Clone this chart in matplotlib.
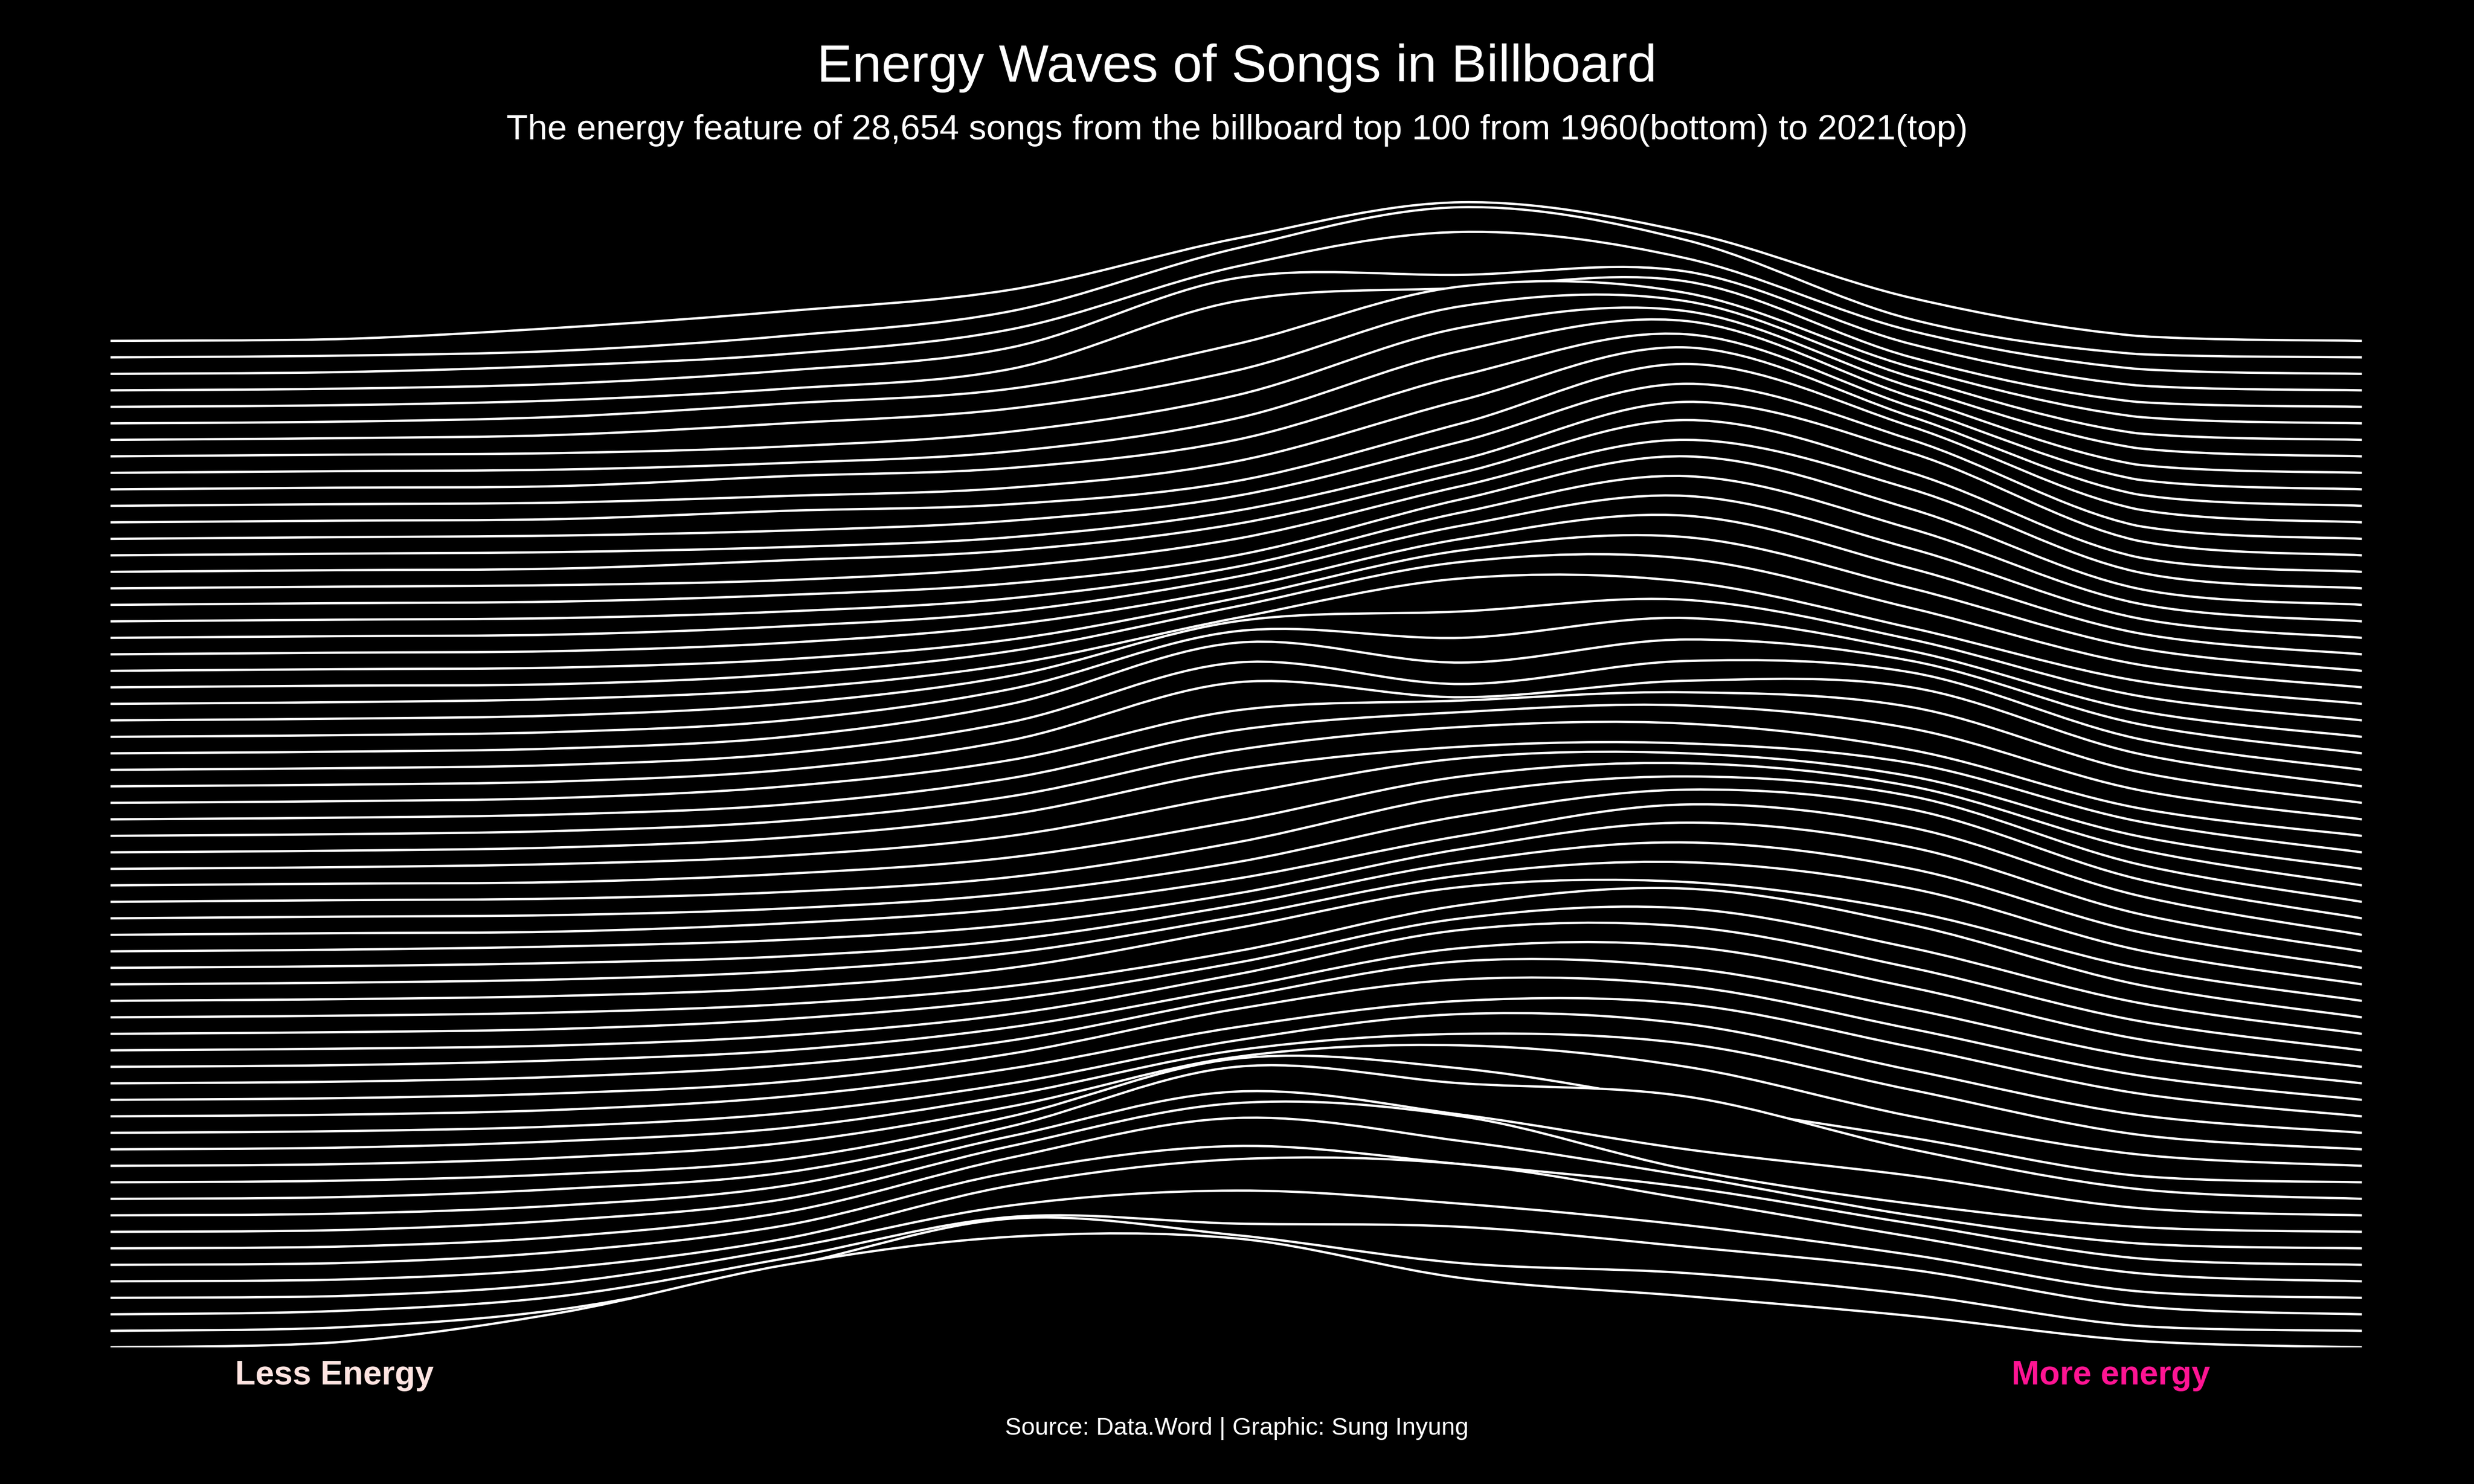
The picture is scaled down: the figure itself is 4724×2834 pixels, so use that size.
import numpy as np
import matplotlib.pyplot as plt
from matplotlib.path import Path
from matplotlib.patches import PathPatch

plt.rcParams['font.family'] = ['Liberation Sans', 'DejaVu Sans']

# energy values where the ridge heights were read (0 .. 1)
energy_grid = [0.0, 0.1, 0.2, 0.3, 0.4, 0.5, 0.6, 0.7, 0.8, 0.9, 1.0]

# ridge heights (scaled density, in units of the row spacing) at energy 0.1 .. 0.9
dens_1960s = [
    [0.3, 2.1, 5.0, 6.7, 6.6, 4.2, 3.1, 1.9, 0.4],   # 1960
    [0.2, 1.3, 3.9, 6.8, 5.8, 4.1, 3.5, 2.2, 0.3],
    [0.2, 1.1, 3.4, 5.9, 5.5, 5.3, 4.1, 2.7, 0.5],
    [0.1, 0.9, 3.0, 5.6, 6.5, 5.7, 4.4, 2.6, 0.4],
    [0.1, 0.8, 2.6, 5.8, 7.4, 7.1, 5.0, 2.7, 0.5],
    [0.1, 0.8, 2.4, 5.6, 7.2, 6.1, 4.7, 2.5, 0.4],
    [0.1, 0.7, 2.2, 5.5, 7.9, 6.5, 4.4, 2.0, 0.3],
    [0.1, 0.7, 2.0, 5.2, 7.8, 7.0, 3.8, 1.7, 0.3],
    [0.1, 0.6, 1.8, 4.8, 7.5, 6.1, 4.0, 2.4, 0.45],
    [0.1, 0.6, 1.6, 4.4, 8.0, 7.0, 6.2, 3.0, 0.6],
]
dens_1970s = [
    [0.1, 0.5, 1.4, 4.0, 7.5, 6.9, 4.8, 2.7, 0.4],   # 1970
    [0.1, 0.5, 1.4, 3.6, 6.6, 7.3, 6.0, 3.0, 0.7],
    [0.1, 0.5, 1.3, 3.3, 6.0, 7.0, 6.4, 3.6, 0.9],
    [0.1, 0.4, 1.2, 3.0, 5.6, 7.2, 6.6, 3.8, 1.1],
    [0.1, 0.4, 1.2, 2.9, 5.4, 7.0, 6.8, 4.2, 1.4],
    [0.1, 0.4, 1.1, 2.8, 5.5, 7.3, 6.9, 4.3, 1.5],
    [0.1, 0.4, 1.1, 2.6, 5.2, 7.4, 7.0, 4.5, 1.6],
    [0.1, 0.4, 1.0, 2.4, 4.8, 7.2, 7.3, 4.8, 1.7],
    [0.1, 0.3, 0.9, 2.2, 4.6, 7.3, 7.5, 5.0, 1.8],
    [0.1, 0.3, 0.9, 2.1, 4.3, 7.0, 7.6, 5.2, 1.9],
]
dens_1980s = [
    [0.1, 0.3, 0.8, 1.9, 4.0, 6.8, 7.8, 5.6, 2.0],   # 1980
    [0.1, 0.3, 0.8, 2.0, 4.4, 6.9, 7.2, 5.4, 2.0],
    [0.1, 0.3, 0.8, 1.9, 4.1, 6.6, 7.4, 5.8, 2.1],
    [0.1, 0.3, 0.7, 1.7, 3.8, 6.4, 7.6, 6.0, 2.2],
    [0.1, 0.3, 0.7, 1.6, 3.5, 6.2, 7.8, 6.3, 2.3],
    [0.1, 0.2, 0.7, 1.6, 3.4, 6.0, 7.9, 6.5, 2.4],
    [0.1, 0.2, 0.6, 1.5, 3.4, 6.2, 7.8, 6.6, 2.4],
    [0.1, 0.2, 0.6, 1.5, 3.6, 6.5, 7.6, 6.4, 2.3],
    [0.1, 0.2, 0.7, 1.7, 3.9, 6.6, 7.4, 6.0, 2.2],
    [0.1, 0.3, 0.8, 2.0, 4.5, 6.7, 7.0, 5.6, 2.0],
]
dens_1990s = [
    [0.1, 0.3, 0.9, 2.3, 5.0, 6.4, 6.6, 5.4, 1.9],   # 1990
    [0.1, 0.3, 0.9, 2.4, 5.2, 6.6, 6.8, 5.2, 1.7],
    [0.1, 0.3, 0.9, 2.5, 5.4, 6.5, 6.9, 5.5, 1.8],
    [0.1, 0.3, 1.0, 2.6, 5.6, 6.2, 6.7, 5.8, 1.9],
    [0.1, 0.3, 1.0, 2.8, 6.3, 5.4, 6.4, 6.0, 2.0],
    [0.1, 0.3, 1.0, 2.9, 6.5, 5.2, 6.6, 5.9, 1.9],
    [0.1, 0.3, 1.0, 3.0, 6.7, 5.5, 6.9, 5.6, 1.8],
    [0.1, 0.3, 1.0, 2.9, 6.4, 6.0, 7.2, 5.2, 1.6],
    [0.1, 0.3, 1.0, 2.7, 6.0, 6.6, 7.3, 4.9, 1.5],
    [0.1, 0.3, 0.9, 2.4, 5.2, 7.6, 7.4, 4.6, 1.4],
]
dens_2000s = [
    [0.1, 0.2, 0.8, 2.2, 4.9, 7.6, 7.8, 4.8, 1.4],   # 2000
    [0.1, 0.2, 0.7, 1.9, 4.4, 7.3, 8.1, 5.0, 1.4],
    [0.1, 0.2, 0.7, 1.8, 4.0, 7.0, 8.4, 5.2, 1.3],
    [0.1, 0.2, 0.7, 1.6, 3.7, 6.8, 8.6, 5.4, 1.2],
    [0.1, 0.2, 0.6, 1.4, 3.3, 6.6, 8.8, 5.6, 1.1],
    [0.1, 0.2, 0.6, 1.3, 3.0, 6.4, 9.0, 5.8, 1.0],
    [0.1, 0.2, 0.5, 1.3, 3.0, 6.2, 9.0, 6.0, 1.0],
    [0.1, 0.2, 0.7, 1.3, 2.9, 6.0, 9.2, 6.0, 0.9],
    [0.1, 0.2, 0.5, 1.1, 2.7, 5.8, 9.3, 6.2, 0.9],
    [0.1, 0.2, 0.5, 1.1, 2.6, 5.9, 9.4, 6.0, 0.8],
]
dens_2010s = [
    [0.1, 0.2, 0.7, 1.1, 2.5, 6.0, 9.6, 5.8, 0.8],   # 2010
    [0.1, 0.2, 0.6, 1.1, 2.7, 6.4, 9.6, 5.4, 0.7],
    [0.1, 0.2, 0.8, 1.3, 3.0, 6.9, 9.4, 5.0, 0.6],
    [0.1, 0.2, 0.6, 1.3, 3.3, 7.4, 9.2, 4.6, 0.5],
    [0.1, 0.2, 0.6, 1.5, 3.7, 7.8, 8.8, 4.2, 0.5],
    [0.1, 0.3, 1.0, 1.9, 4.2, 8.1, 8.4, 3.8, 0.4],
    [0.1, 0.4, 1.2, 2.1, 4.8, 8.3, 7.9, 3.4, 0.4],
    [0.1, 0.4, 1.1, 2.3, 6.4, 7.2, 7.6, 3.0, 0.3],
    [0.1, 0.4, 1.2, 2.6, 6.8, 7.0, 7.2, 2.8, 0.3],
    [0.1, 0.5, 1.2, 2.7, 6.5, 8.6, 7.0, 2.6, 0.3],
]
dens_2020s = [
    [0.1, 0.4, 1.3, 2.8, 6.6, 9.1, 7.1, 2.3, 0.2],   # 2020
    [0.1, 0.8, 1.8, 3.1, 6.2, 8.4, 6.6, 2.6, 0.3],   # 2021
]

years = list(range(1960, 2022))
ridges = dens_1960s + dens_1970s + dens_1980s + dens_1990s + dens_2000s + dens_2010s + dens_2020s


def ridge_path(xs, ys, base):
    # smooth curve through the read points (catmull-rom as cubic beziers)
    pts = np.column_stack([xs, ys])
    n = len(pts)
    verts = [pts[0]]
    codes = [Path.MOVETO]
    for k in range(n - 1):
        p0 = pts[max(k - 1, 0)]
        p1 = pts[k]
        p2 = pts[k + 1]
        p3 = pts[min(k + 2, n - 1)]
        c1 = p1 + (p2 - p0) / 6.0
        c2 = p2 - (p3 - p1) / 6.0
        c1[1] = max(c1[1], base)
        c2[1] = max(c2[1], base)
        verts += [c1, c2, p2]
        codes += [Path.CURVE4] * 3
    return verts, codes


fig = plt.figure(figsize=(4724 / 300, 2834 / 300), dpi=300, facecolor='black')
ax = fig.add_axes([0.04467, 0.0921, 0.9100, 0.8679])
ax.set_facecolor('black')
ax.set_xlim(0, 1)
ax.set_ylim(0, 78.06)
ax.axis('off')

for i, (yr, h) in enumerate(zip(years, ridges)):
    ys = [i] + [i + v for v in h] + [i]
    verts, codes = ridge_path(energy_grid, ys, i)
    fverts = verts + [(0.0, i), (0.0, i)]
    fcodes = codes + [Path.LINETO, Path.CLOSEPOLY]
    # lower years sit in front, their black fill hides the ridges behind
    ax.add_patch(PathPatch(Path(fverts, fcodes), facecolor='black', edgecolor='none',
                           zorder=200 - 2 * i))
    ax.add_patch(PathPatch(Path(verts, codes), facecolor='none', edgecolor='white',
                           lw=1.05, zorder=201 - 2 * i, capstyle='butt'))

fig.text(0.5, 0.954, 'Energy Waves of Songs in Billboard', color='white',
         fontsize=24.2, ha='center', va='center')
fig.text(0.5, 0.912, 'The energy feature of 28,654 songs from the billboard top 100 '
         'from 1960(bottom) to 2021(top)', color='white', fontsize=16.1,
         ha='center', va='center')
fig.text(212 / 1568, 0.073, 'Less Energy', color='#FFE4E1', fontsize=15.3,
         fontweight='bold', ha='center', va='center')
fig.text(1338 / 1568, 0.073, 'More energy', color='#FF1493', fontsize=15.3,
         fontweight='bold', ha='center', va='center')
fig.text(0.5, 0.0375, 'Source: Data.Word | Graphic: Sung Inyung', color='white',
         fontsize=11.2, ha='center', va='center')

fig.savefig('out.png', dpi=300, facecolor='black')
